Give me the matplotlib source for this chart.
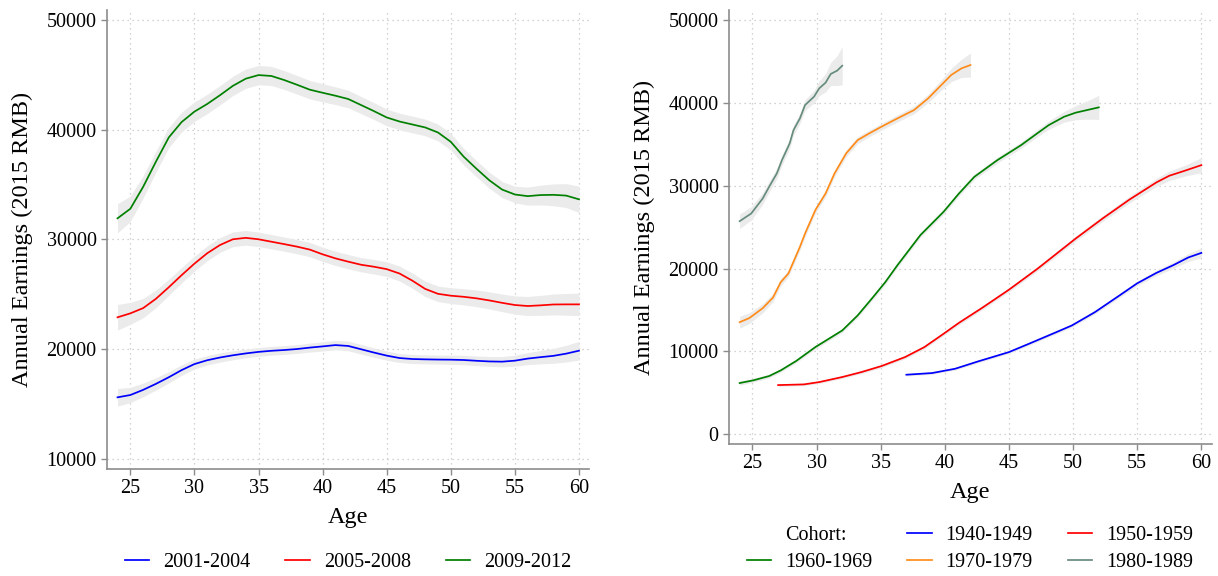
import matplotlib
matplotlib.use("Agg")
import matplotlib.pyplot as plt
from matplotlib.lines import Line2D
import numpy as np

plt.rcParams['font.family'] = ['Liberation Serif', 'DejaVu Serif']

# ---------------- Left panel: by period ----------------
ages_period = list(range(24, 61))
period_labels = ["2001-2004", "2005-2008", "2009-2012"]
period_colors = ["#0000ff", "#ff0000", "#008000"]

earn_2001_2004 = [15620, 15830, 16300, 16850, 17450, 18100, 18650, 19000, 19250, 19450,
                  19620, 19760, 19860, 19930, 20020, 20150, 20260, 20380, 20300, 20000,
                  19700, 19420, 19200, 19110, 19080, 19060, 19050, 19020, 18950, 18890,
                  18870, 18960, 19150, 19280, 19400, 19600, 19870]
earn_2005_2008 = [22910, 23270, 23750, 24600, 25650, 26750, 27800, 28750, 29500, 30020,
                  30150, 30020, 29800, 29580, 29350, 29080, 28650, 28280, 27980, 27700,
                  27520, 27300, 26900, 26250, 25500, 25050, 24880, 24780, 24640, 24450,
                  24230, 24030, 23940, 24000, 24080, 24090, 24090]
earn_2009_2012 = [31930, 32800, 34800, 37100, 39300, 40700, 41650, 42350, 43150, 44000,
                  44650, 44980, 44900, 44530, 44100, 43650, 43370, 43100, 42800, 42250,
                  41700, 41120, 40750, 40480, 40210, 39750, 38900, 37550, 36450, 35400,
                  34550, 34100, 33950, 34050, 34070, 34000, 33660]

ci_2001_2004 = [800, 700, 620, 560, 510, 480, 450, 430, 420, 410, 400, 400, 400, 400, 400,
                410, 420, 430, 440, 440, 430, 420, 410, 410, 410, 410, 420, 430, 440, 450,
                470, 500, 550, 610, 680, 760, 850]
ci_2005_2008 = [1170, 1000, 880, 800, 740, 700, 680, 670, 670, 670, 670, 660, 650, 650, 650,
                650, 650, 650, 650, 650, 660, 670, 680, 690, 700, 710, 720, 740, 760, 780,
                800, 830, 870, 910, 950, 990, 1030]
ci_2009_2012 = [1330, 1150, 1020, 950, 920, 900, 890, 880, 880, 880, 880, 880, 870, 860, 850,
                840, 830, 810, 800, 780, 770, 760, 760, 760, 760, 760, 760, 750, 740, 730,
                730, 760, 820, 900, 990, 1090, 1200]

# ---------------- Right panel: by cohort ----------------
cohort_labels = ["1940-1949", "1950-1959", "1960-1969", "1970-1979", "1980-1989"]
cohort_colors = ["#0000ff", "#ff0000", "#008000", "#ff8c1a", "#668c7c"]

ages_1940 = [37, 39, 40.8, 42.6, 45, 46.55, 48.7, 49.9, 51.7, 53.5, 55, 56.5, 57.8, 58.97, 60]
earn_1940 = [7190, 7390, 7910, 8800, 9920, 10920, 12330, 13130, 14740, 16630, 18220, 19480,
             20400, 21330, 21890]
ci_1940 = [150, 150, 160, 170, 180, 190, 200, 210, 230, 250, 280, 320, 380, 470, 600]

ages_1950 = [27, 29.0, 30.2, 32.0, 33.5, 35.05, 36.9, 38.4, 39.9, 41.1, 42.9, 45.0, 47.2, 50.2,
             52.3, 54.4, 56.5, 57.5, 58.7, 60.0]
earn_1950 = [5940, 6020, 6300, 6910, 7510, 8230, 9320, 10520, 12130, 13450, 15250, 17450,
             19950, 23620, 26040, 28330, 30400, 31200, 31800, 32480]
ci_1950 = [150, 150, 160, 170, 180, 190, 200, 210, 220, 230, 240, 250, 270, 300, 340, 400,
           500, 570, 650, 900]

ages_1960 = [24, 25.06, 26.3, 27.2, 28.4, 29.9, 32.0, 33.2, 34.4, 35.35, 36.3, 38.1, 39.9,
             41.1, 42.3, 44.1, 45.95, 47.2, 48.1, 49.3, 50.2, 51.1, 52.0]
earn_1960 = [6185, 6510, 7030, 7710, 8840, 10520, 12530, 14340, 16550, 18350, 20400, 24050,
             26850, 29060, 31070, 33090, 34900, 36310, 37310, 38320, 38810, 39130, 39450]
ci_1960 = [250, 230, 220, 220, 220, 230, 240, 250, 260, 270, 280, 290, 300, 310, 330, 350,
           380, 420, 500, 650, 850, 1100, 1450]

ages_1970 = [24, 24.75, 25.8, 26.6, 27.2, 27.8, 28.7, 29.1, 29.9, 30.7, 31.4, 32.3, 33.2,
             34.1, 35.05, 36.3, 37.6, 38.7, 39.6, 40.5, 41.3, 42.0]
earn_1970 = [13530, 14020, 15220, 16500, 18350, 19400, 22620, 24230, 27050, 29060, 31480,
             33890, 35500, 36310, 37110, 38120, 39130, 40540, 41950, 43360, 44160, 44560]
ci_1970 = [720, 650, 550, 480, 430, 400, 400, 400, 400, 400, 400, 400, 400, 400, 400, 420,
           450, 500, 600, 800, 1100, 1450]

ages_1980 = [24, 24.9, 25.8, 26.3, 26.9, 27.3, 27.9, 28.2, 28.7, 29.1, 29.8, 30.2, 30.7,
             31.1, 31.6, 32.0]
earn_1980 = [25716, 26640, 28460, 29870, 31480, 33090, 35100, 36710, 38120, 39730, 40740,
             41740, 42430, 43480, 43880, 44480]
ci_1980 = [880, 800, 700, 650, 620, 600, 600, 600, 620, 650, 750, 900, 1100, 1400, 1800, 2300]

x_ticks = [25, 30, 35, 40, 45, 50, 55, 60]
y_ticks_left = [10000, 20000, 30000, 40000, 50000]
y_ticks_right = [0, 10000, 20000, 30000, 40000, 50000]

# ---------------- Figure ----------------
W, H = 1218, 576
fig = plt.figure(figsize=(W / 100, H / 100), dpi=100)

def px_axes(x0, y0, x1, y1):
    return fig.add_axes([x0 / W, 1 - y1 / H, (x1 - x0) / W, (y1 - y0) / H])

ax1 = px_axes(107, 10, 589, 469)
ax2 = px_axes(729, 10, 1212, 444)

band_col = "#ebebeb"
spine_col = "#8c8c8c"
grid_col = "#c4c4c4"

def style(ax, yticks, ylim, xlim):
    ax.set_xlim(*xlim)
    ax.set_ylim(*ylim)
    ax.set_xticks(x_ticks)
    ax.set_yticks(yticks)
    for s in ["top", "right"]:
        ax.spines[s].set_visible(False)
    for s in ["left", "bottom"]:
        ax.spines[s].set_color(spine_col)
        ax.spines[s].set_linewidth(1.2)
    ax.tick_params(axis="both", direction="out", length=4.5, width=1.0, color=spine_col,
                   labelsize=14.5, labelcolor="black", pad=3)
    ax.grid(True, color=grid_col, linestyle=(0, (1, 3)), linewidth=0.9)
    ax.set_axisbelow(True)
    ax.set_xlabel("Age", fontsize=17.5, labelpad=6)
    ax.set_ylabel("Annual Earnings (2015 RMB)", fontsize=17.5, labelpad=10)

# Left panel
for vals, ci in zip([earn_2001_2004, earn_2005_2008, earn_2009_2012],
                    [ci_2001_2004, ci_2005_2008, ci_2009_2012]):
    v = np.array(vals); c = np.array(ci)
    ax1.fill_between(ages_period, v - c, v + c, color=band_col, linewidth=0, zorder=1)
for vals, col, lab in zip([earn_2001_2004, earn_2005_2008, earn_2009_2012],
                          period_colors, period_labels):
    ax1.plot(ages_period, vals, color=col, lw=1.25, label=lab, zorder=3)
style(ax1, y_ticks_left, (9090, 50910), (23.18, 60.78))

# Right panel
cohort_ages = [ages_1940, ages_1950, ages_1960, ages_1970, ages_1980]
cohort_vals = [earn_1940, earn_1950, earn_1960, earn_1970, earn_1980]
cohort_ci = [ci_1940, ci_1950, ci_1960, ci_1970, ci_1980]
for a, v, c in zip(cohort_ages, cohort_vals, cohort_ci):
    v = np.array(v); c = np.array(c)
    ax2.fill_between(a, v - c, v + c, color=band_col, linewidth=0, zorder=1)
lines = []
for a, v, col, lab in zip(cohort_ages, cohort_vals, cohort_colors, cohort_labels):
    ln, = ax2.plot(a, v, color=col, lw=1.25, label=lab, zorder=3)
    lines.append(ln)
style(ax2, y_ticks_right, (-1170, 51200), (23.17, 60.83))

# Legends
leg_kw = dict(frameon=False, fontsize=14.5, handlelength=1.2, handletextpad=0.7,
              columnspacing=1.75, borderpad=0, borderaxespad=0)
fig.legend(handles=ax1.get_lines(), labels=period_labels, ncol=3, loc="center",
           bbox_to_anchor=(348 / W, 1 - 562 / H), **leg_kw)

dummy = Line2D([], [], color="none")
hl = [dummy, lines[2], lines[0], lines[3], lines[1], lines[4]]
ll = ["Cohort:", cohort_labels[2], cohort_labels[0], cohort_labels[3], cohort_labels[1],
      cohort_labels[4]]
fig.legend(handles=hl, labels=ll, ncol=3, loc="center", labelspacing=0.42,
           bbox_to_anchor=(970 / W, 1 - 549 / H), **leg_kw)

fig.savefig("out.png", dpi=100)
